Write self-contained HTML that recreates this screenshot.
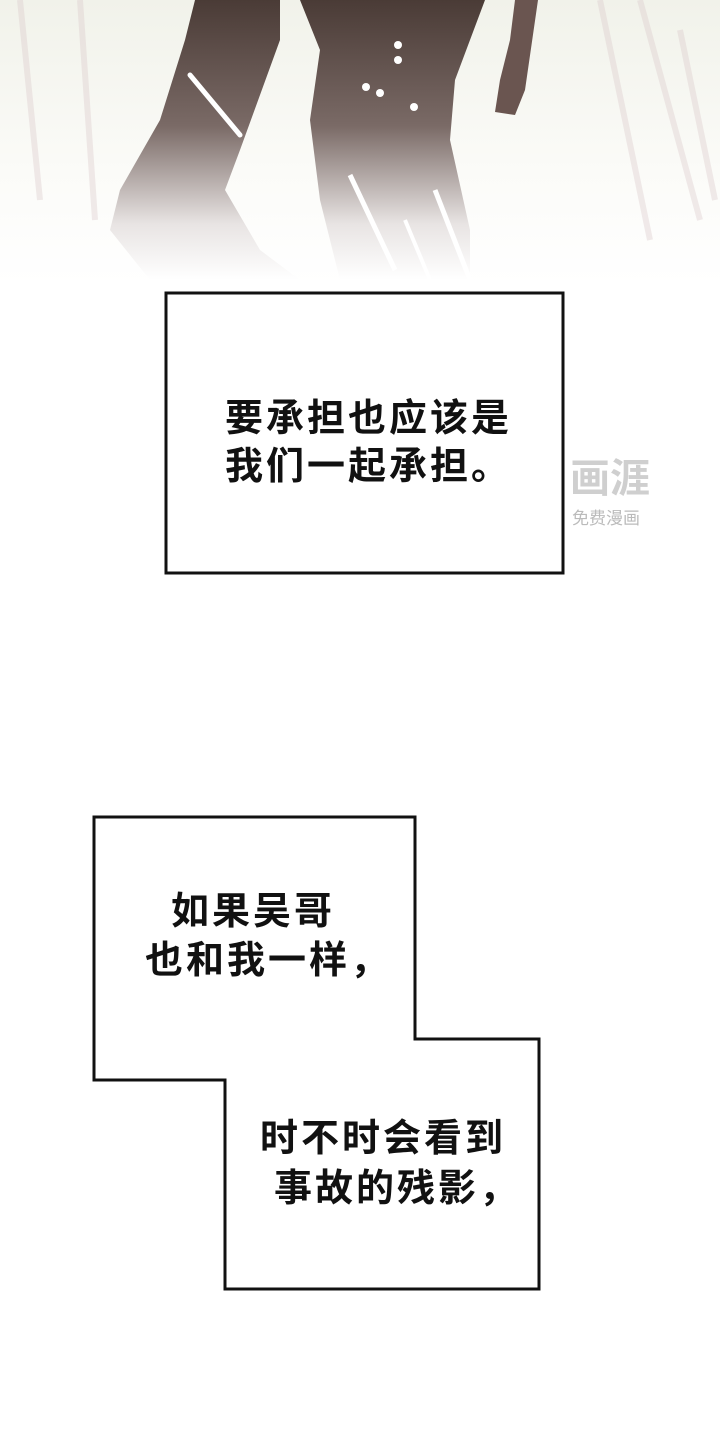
<!DOCTYPE html>
<html><head><meta charset="utf-8"><style>
html,body{margin:0;padding:0;background:#fff;}
body{width:720px;height:1440px;position:relative;overflow:hidden;}
.t{position:absolute;font-family:"Liberation Sans","Noto Sans CJK SC",sans-serif;font-size:38px;font-weight:bold;letter-spacing:3px;color:#111;white-space:nowrap;line-height:1;}
</style></head><body>
<svg width="720" height="1440" style="position:absolute;left:0;top:0">
<defs>
<linearGradient id="leg" x1="0" y1="0" x2="0" y2="1">
<stop offset="0" stop-color="#4a3b36"/><stop offset="0.45" stop-color="#7a6a66"/><stop offset="0.8" stop-color="#e8e4e3"/><stop offset="1" stop-color="#fff"/>
</linearGradient>
<linearGradient id="bg" x1="0" y1="0" x2="0" y2="1">
<stop offset="0" stop-color="#f1f2ea"/><stop offset="0.6" stop-color="#fbfbf8"/><stop offset="1" stop-color="#fff"/>
</linearGradient>
</defs>
<rect x="0" y="0" width="720" height="285" fill="url(#bg)"/>
<g opacity="0.35" stroke="#d9c6c8" stroke-width="6">
<line x1="20" y1="0" x2="40" y2="200"/><line x1="80" y1="0" x2="95" y2="220"/>
<line x1="640" y1="0" x2="700" y2="220"/><line x1="680" y1="30" x2="715" y2="200"/>
<line x1="600" y1="0" x2="650" y2="240"/>
</g>
<polygon points="195,0 280,0 280,40 240,150 225,190 260,250 300,280 150,280 110,230 120,190 160,120 185,40" fill="url(#leg)"/>
<polygon points="300,0 485,0 455,80 450,140 470,230 470,280 340,280 320,200 310,120 320,50" fill="url(#leg)"/>
<polygon points="515,0 538,0 525,90 515,115 495,112 500,80 510,40" fill="#6a5550"/>
<line x1="190" y1="75" x2="240" y2="135" stroke="#fff" stroke-width="5" stroke-linecap="round"/>
<line x1="350" y1="175" x2="395" y2="270" stroke="#fff" stroke-width="5"/>
<line x1="435" y1="190" x2="470" y2="280" stroke="#fff" stroke-width="5"/>
<line x1="405" y1="220" x2="430" y2="280" stroke="#fff" stroke-width="4"/>
<circle cx="398" cy="45" r="4" fill="#fff"/><circle cx="398" cy="60" r="4" fill="#fff"/>
<circle cx="366" cy="87" r="4" fill="#fff"/><circle cx="380" cy="93" r="4" fill="#fff"/><circle cx="414" cy="107" r="4" fill="#fff"/>
<rect x="166" y="293" width="397" height="280" fill="#fff" stroke="#111" stroke-width="3"/>
<polygon points="94,817 415,817 415,1039 539,1039 539,1289 225,1289 225,1080 94,1080" fill="#fff" stroke="#111" stroke-width="3"/>
<text x="570" y="492" font-family="Liberation Sans,Noto Sans CJK SC,sans-serif" font-size="40" fill="#cfcfcf" font-weight="bold">画涯</text>
<text x="572" y="524" font-family="Liberation Sans,Noto Sans CJK SC,sans-serif" font-size="17" fill="#bbb">免费漫画</text>
</svg>
<div class="t" style="left:225px;top:400px">要承担也应该是</div>
<div class="t" style="left:225px;top:448px">我们一起承担。</div>
<div class="t" style="left:171px;top:893px">如果吴哥</div>
<div class="t" style="left:145px;top:942px">也和我一样，</div>
<div class="t" style="left:260px;top:1120px">时不时会看到</div>
<div class="t" style="left:274px;top:1170px">事故的残影，</div>
</body></html>
